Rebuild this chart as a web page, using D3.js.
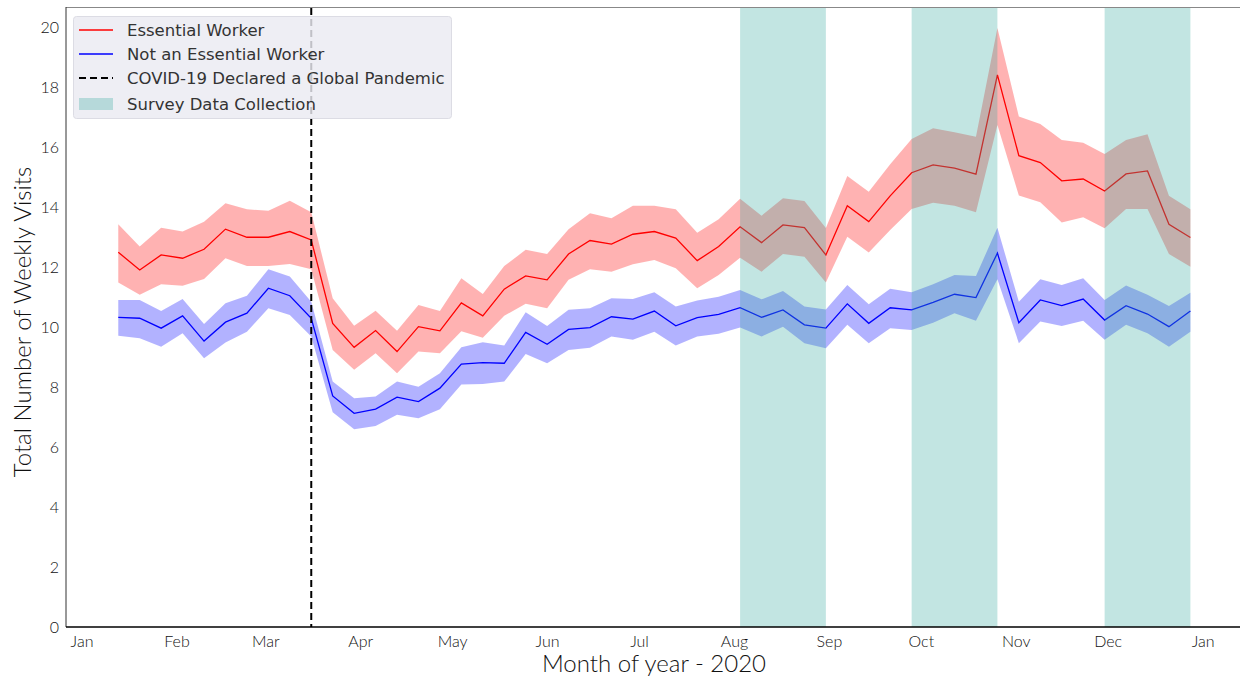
<!DOCTYPE html>
<html>
<head>
<meta charset="utf-8">
<script src="https://cdn.jsdelivr.net/npm/d3@7"></script>
<style>
  html, body { margin: 0; padding: 0; background: #fff; }
  svg { display: block; }
</style>
</head>
<body>
<svg id="chart" width="1241" height="679"></svg>
<script>
// ---- data ----
const startWeek = "2020-01-13"; // weekly (Mondays)
const essentialMean = [12.49,11.9,12.4,12.29,12.59,13.26,12.99,12.99,13.18,12.9,10.12,9.32,9.88,9.18,10.01,9.87,10.8,10.37,11.26,11.7,11.57,12.43,12.88,12.76,13.09,13.18,12.96,12.21,12.68,13.34,12.81,13.4,13.31,12.4,14.04,13.51,14.37,15.14,15.4,15.29,15.09,18.4,15.71,15.48,14.87,14.93,14.53,15.1,15.2,13.42,12.98];
const essentialUpper = [13.42,12.68,13.31,13.18,13.51,14.12,13.92,13.87,14.21,13.82,10.96,10.04,10.54,9.87,10.73,10.53,11.62,11.1,12.03,12.57,12.43,13.26,13.79,13.62,14.04,14.04,13.92,13.14,13.59,14.27,13.71,14.29,14.2,13.3,15.03,14.51,15.42,16.26,16.62,16.49,16.34,19.96,17.01,16.76,16.23,16.14,15.76,16.23,16.42,14.37,13.92];
const essentialLower = [11.48,11.07,11.42,11.37,11.6,12.29,12.03,12.03,12.1,11.92,9.23,8.57,9.12,8.46,9.18,9.12,9.86,9.64,10.37,10.77,10.62,11.57,11.92,11.84,12.09,12.23,11.96,11.29,11.73,12.31,11.84,12.43,12.34,11.48,13.01,12.48,13.23,13.93,14.14,14.04,13.82,16.73,14.38,14.16,13.48,13.66,13.29,13.93,13.93,12.43,12.01];
const nonEssentialMean = [10.32,10.29,9.96,10.37,9.53,10.16,10.46,11.29,11.04,10.29,7.7,7.12,7.26,7.66,7.51,7.96,8.76,8.81,8.79,9.82,9.42,9.92,9.98,10.34,10.26,10.53,10.04,10.31,10.42,10.64,10.32,10.57,10.07,9.96,10.77,10.12,10.64,10.57,10.82,11.09,10.98,12.46,10.14,10.9,10.71,10.93,10.23,10.71,10.43,10.01,10.53];
const nonEssentialUpper = [10.9,10.9,10.53,10.93,10.1,10.79,11.04,11.92,11.68,10.84,8.18,7.62,7.68,8.18,8.01,8.46,9.32,9.49,9.38,10.49,10.03,10.57,10.62,10.96,10.93,11.16,10.68,10.88,11.01,11.23,10.92,11.2,10.68,10.58,11.4,10.76,11.27,11.16,11.42,11.73,11.7,13.31,10.84,11.59,11.4,11.62,10.9,11.38,11.07,10.7,11.14];
const nonEssentialLower = [9.71,9.62,9.34,9.79,8.96,9.48,9.84,10.62,10.4,9.68,7.16,6.59,6.7,7.07,6.96,7.26,8.08,8.1,8.18,9.1,8.79,9.23,9.31,9.68,9.57,9.84,9.38,9.68,9.77,9.98,9.68,10.01,9.46,9.29,10.07,9.46,9.96,9.9,10.14,10.46,10.21,11.59,9.46,10.18,10.03,10.21,9.57,10.07,9.79,9.34,9.84];
const pandemicDate = "2020-03-16";
const surveyStarts = ["2020-08-03","2020-09-28","2020-11-30"];
const surveyEnds   = ["2020-08-31","2020-10-26","2020-12-28"];
const monthTicks = ["2020-01-01","2020-02-01","2020-03-01","2020-04-01","2020-05-01","2020-06-01","2020-07-01","2020-08-01","2020-09-01","2020-10-01","2020-11-01","2020-12-01","2021-01-01"];
const monthLabels = ["Jan","Feb","Mar","Apr","May","Jun","Jul","Aug","Sep","Oct","Nov","Dec","Jan"];
const yTicks = [0,2,4,6,8,10,12,14,16,18,20];
const legendLabels = ["Essential Worker","Not an Essential Worker","COVID-19 Declared a Global Pandemic","Survey Data Collection"];

// ---- setup ----
const parse = d3.utcParse("%Y-%m-%d");
const start = parse(startWeek);
const dates = essentialMean.map((_, i) => d3.utcDay.offset(start, 7 * i));

const svg = d3.select("#chart");
const L = 66, R = 1240, T = 8, B = 627;
const x = d3.scaleUtc().domain([parse("2019-12-27"), parse("2021-01-13")]).range([66.2, 1239.4]);
const y = d3.scaleLinear().domain([0, 20.63]).range([B, T]);

const tickFont = "Lato, 'Open Sans', sans-serif";

// clip
svg.append("defs").append("clipPath").attr("id", "clip")
  .append("rect").attr("x", L).attr("y", T).attr("width", R - L).attr("height", B - T);
const plot = svg.append("g").attr("clip-path", "url(#clip)");

function band(lo, hi, color) {
  const area = d3.area().x((d, i) => x(dates[i])).y0((d, i) => y(lo[i])).y1((d, i) => y(hi[i]));
  plot.append("path").datum(lo).attr("d", area).attr("fill", color).attr("fill-opacity", 0.3);
}
function line(vals, color) {
  const ln = d3.line().x((d, i) => x(dates[i])).y(d => y(d));
  plot.append("path").datum(vals).attr("d", ln).attr("fill", "none")
    .attr("stroke", color).attr("stroke-width", 1.3);
}

band(essentialLower, essentialUpper, "#ff0000");
band(nonEssentialLower, nonEssentialUpper, "#0000ff");
line(essentialMean, "#ff0000");
line(nonEssentialMean, "#0000ff");

// survey spans (drawn on top, semi-transparent)
surveyStarts.forEach((s, i) => {
  const x0 = x(parse(s)), x1 = x(parse(surveyEnds[i]));
  plot.append("rect").attr("x", x0).attr("y", T).attr("width", x1 - x0).attr("height", B - T)
    .attr("fill", "#34a99f").attr("fill-opacity", 0.3);
});

// pandemic line
const px = x(parse(pandemicDate));
svg.append("line").attr("x1", px).attr("x2", px).attr("y1", T).attr("y2", B)
  .attr("stroke", "#000").attr("stroke-width", 2).attr("stroke-dasharray", "7,4");

// spines
svg.append("line").attr("x1", L).attr("x2", R).attr("y1", T - 0.5).attr("y2", T - 0.5)
  .attr("stroke", "#888").attr("stroke-width", 1.2);
svg.append("line").attr("x1", L).attr("x2", L).attr("y1", T - 1).attr("y2", B)
  .attr("stroke", "#333").attr("stroke-width", 1);
svg.append("line").attr("x1", L).attr("x2", R).attr("y1", B).attr("y2", B)
  .attr("stroke", "#000").attr("stroke-width", 1.5);

// axes
const xAxis = d3.axisBottom(x).tickValues(monthTicks.map(parse))
  .tickFormat((d, i) => monthLabels[i]).tickSize(0).tickPadding(9);
const gx = svg.append("g").attr("transform", `translate(0,${B})`).call(xAxis);
gx.select(".domain").remove();
gx.selectAll("text").attr("font-family", tickFont).attr("font-size", 16).attr("font-weight", 300).attr("fill", "#111");

const yAxis = d3.axisLeft(y).tickValues(yTicks).tickSize(0).tickPadding(7);
const gy = svg.append("g").attr("transform", `translate(${L},0)`).call(yAxis);
gy.select(".domain").remove();
gy.selectAll("text").attr("font-family", tickFont).attr("font-size", 16).attr("font-weight", 300).attr("fill", "#111");

// axis titles
svg.append("text").attr("x", 654).attr("y", 672).attr("text-anchor", "middle")
  .attr("font-family", tickFont).attr("font-weight", 300).attr("font-size", 24).attr("fill", "#111")
  .text("Month of year - 2020");
svg.append("text").attr("transform", "translate(31,322) rotate(-90)").attr("text-anchor", "middle")
  .attr("font-family", tickFont).attr("font-weight", 300).attr("font-size", 24).attr("fill", "#111")
  .text("Total Number of Weekly Visits");

// legend
const lg = svg.append("g");
lg.append("rect").attr("x", 73.5).attr("y", 16.5).attr("width", 378).attr("height", 102).attr("rx", 3)
  .attr("fill", "#eaeaf2").attr("fill-opacity", 0.82).attr("stroke", "#dcdce4").attr("stroke-width", 1);
const rows = [30, 54, 78, 104];
const lgFont = "'DejaVu Sans', sans-serif";
lg.append("line").attr("x1", 79).attr("x2", 113).attr("y1", rows[0]).attr("y2", rows[0]).attr("stroke", "#ff0000").attr("stroke-width", 1.3);
lg.append("line").attr("x1", 79).attr("x2", 113).attr("y1", rows[1]).attr("y2", rows[1]).attr("stroke", "#0000ff").attr("stroke-width", 1.3);
lg.append("line").attr("x1", 79).attr("x2", 113).attr("y1", rows[2]).attr("y2", rows[2]).attr("stroke", "#000").attr("stroke-width", 2).attr("stroke-dasharray", "7,4");
lg.append("rect").attr("x", 79).attr("y", rows[3] - 6).attr("width", 34).attr("height", 12).attr("fill", "#34a99f").attr("fill-opacity", 0.3);
legendLabels.forEach((t, i) => {
  lg.append("text").attr("x", 127).attr("y", rows[i]).attr("dy", "0.35em")
    .attr("font-family", lgFont).attr("font-size", 16.5).attr("fill", "#333").text(t);
});
</script>
</body>
</html>
